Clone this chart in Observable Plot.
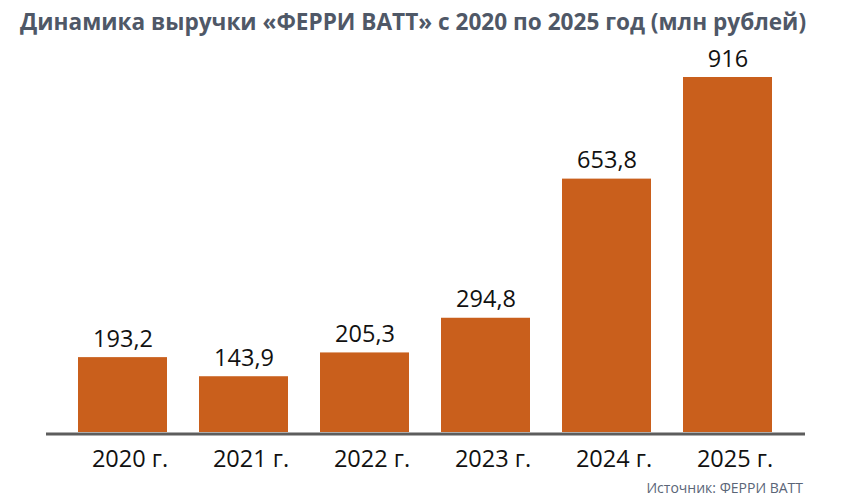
<!DOCTYPE html>
<html>
<head>
<meta charset="utf-8">
<script src="https://cdn.jsdelivr.net/npm/d3@7"></script>
<script src="https://cdn.jsdelivr.net/npm/@observablehq/plot@0.6"></script>
<style>
  body { margin: 0; background: #fff; width: 850px; height: 501px; overflow: hidden; font-family: "Open Sans", sans-serif; }
  #title { height: 36px; line-height: 44px; font-size: 22.6px; font-weight: 700; color: #4f5867; padding-left: 20px; white-space: nowrap; }
  #caption { position: absolute; left: 0; width: 803px; top: 478px; text-align: right; font-size: 14px; color: #5a6577; }
  svg { display: block; }
</style>
</head>
<body>
<div id="title">Динамика выручки «ФЕРРИ ВАТТ» с 2020 по 2025 год (млн рублей)</div>
<div id="chart"></div>
<div id="caption">Источник: ФЕРРИ ВАТТ</div>
<script>
const years = ["2020 г.", "2021 г.", "2022 г.", "2023 г.", "2024 г.", "2025 г."];
const revenue = [193.2, 143.9, 205.3, 294.8, 653.8, 916];

const data = years.map((y, i) => ({year: y, value: revenue[i]}));
const fmt = v => String(v).replace(".", ",");

const chart = Plot.plot({
  width: 850,
  height: 438,
  marginLeft: 46,
  marginRight: 45,
  marginTop: 41,
  marginBottom: 42,
  style: {fontFamily: "Open Sans, sans-serif", background: "#fff"},
  x: {domain: years, padding: 0.264, label: null},
  y: {domain: [0, 916], axis: null},
  marks: [
    Plot.barY(data, {x: "year", y: "value", fill: "#c95f1c"}),
    Plot.ruleY([0], {stroke: "#5d5d5d", strokeWidth: 3, dy: 1.5}),
    Plot.text(data, {x: "year", y: "value", text: d => fmt(d.value), lineAnchor: "bottom", dy: -11, fontSize: 23.5, fill: "#111"}),
    Plot.axisX({tickSize: 0, tickPadding: 0, dy: 18, dx: 7, fontSize: 23.5, color: "#111", label: null})
  ]
});
document.getElementById("chart").appendChild(chart);
</script>
</body>
</html>
